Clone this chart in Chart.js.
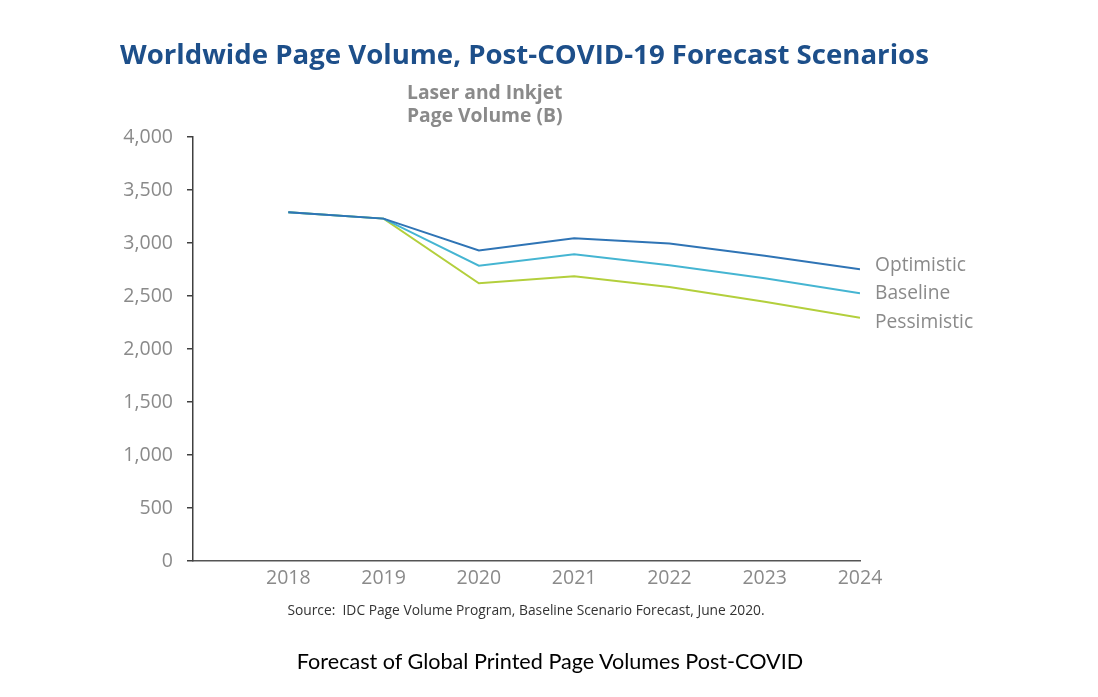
<!DOCTYPE html>
<html>
<head>
<meta charset="utf-8">
<script src="https://cdn.jsdelivr.net/npm/chart.js@4"></script>
<style>
  body { margin: 0; background: #fff; font-family: "Open Sans", sans-serif; }
  #wrap { position: relative; width: 1098px; height: 697px; }
  #chart { position: absolute; left: 0; top: 0; }
  .txt { position: absolute; white-space: nowrap; }
  #title { left: 120px; top: 34px; font-size: 27.6px; font-weight: bold; color: #1d4f8a; }
  #ylabel { left: 407px; top: 80px; font-size: 19.3px; font-weight: bold; color: #8a8a8a; line-height: 23px; }
  #source { left: 0; width: 1052px; text-align: center; top: 600px; font-size: 13.8px; color: #333; }
  #caption { left: 0; width: 1100px; text-align: center; top: 648px; font-family: Lato, sans-serif; font-size: 21.6px; color: #000; }
  .end { font-size: 19.2px; color: #8a8a8a; }
</style>
</head>
<body>
<div id="wrap">
  <canvas id="chart" width="1098" height="697"></canvas>
  <div class="txt" id="title">Worldwide Page Volume, Post-COVID-19 Forecast Scenarios</div>
  <div class="txt" id="ylabel">Laser and Inkjet<br>Page Volume (B)</div>
  <div class="txt" id="source">Source:&nbsp; IDC Page Volume Program, Baseline Scenario Forecast, June 2020.</div>
  <div class="txt" id="caption">Forecast of Global Printed Page Volumes Post-COVID</div>
</div>
<script>
// data
const years = [2018, 2019, 2020, 2021, 2022, 2023, 2024];
const optimistic = [3290, 3230, 2930, 3045, 2995, 2880, 2752];
const baseline = [3290, 3230, 2786, 2893, 2790, 2667, 2525];
const pessimistic = [3290, 3230, 2620, 2686, 2585, 2446, 2295];
const yTicks = [0, 500, 1000, 1500, 2000, 2500, 3000, 3500, 4000];

const seriesNames = ['Optimistic', 'Baseline', 'Pessimistic'];
const seriesColors = ['#2f74b5', '#45b5d2', '#b3cf3c'];
const labelShift = [-5, -1, 3];

function points(vals) {
    return years.map((y, i) => ({ x: y, y: vals[i] }));
}

// put the end-of-line names next to the last point of each series
const endLabels = {
    id: 'endLabels',
    afterRender(chart) {
        const wrap = document.getElementById('wrap');
        chart.data.datasets.forEach((ds, i) => {
            let el = document.getElementById('end' + i);
            if (!el) {
                el = document.createElement('div');
                el.id = 'end' + i;
                el.className = 'txt end';
                el.textContent = ds.label;
                wrap.appendChild(el);
            }
            const last = ds.data[ds.data.length - 1];
            const px = chart.scales.x.getPixelForValue(last.x);
            const py = chart.scales.y.getPixelForValue(last.y);
            el.style.left = (px + 15) + 'px';
            el.style.top = (py + labelShift[i] - 14) + 'px';
        });
    }
};

const ctx = document.getElementById('chart').getContext('2d');
new Chart(ctx, {
    type: 'line',
    data: {
        datasets: [optimistic, baseline, pessimistic].map((vals, i) => ({
            label: seriesNames[i],
            data: points(vals),
            borderColor: seriesColors[i],
            borderWidth: 2,
            pointRadius: 0,
            tension: 0,
            fill: false
        }))
    },
    options: {
        responsive: false,
        animation: false,
        layout: { padding: { left: 100, top: 137, right: 238, bottom: 106 } },
        plugins: { legend: { display: false }, tooltip: { enabled: false } },
        scales: {
            x: {
                type: 'linear',
                min: 2017,
                max: 2024,
                afterFit: s => { s.height = 30; },
                afterBuildTicks: s => { s.ticks = years.map(v => ({ value: v })); },
                grid: { drawOnChartArea: false, drawTicks: false },
                border: { color: '#555', width: 1.5 },
                ticks: {
                    padding: 6,
                    color: '#8a8a8a',
                    font: { family: 'Open Sans', size: 19.5 },
                    callback: v => String(v)
                }
            },
            y: {
                min: 0,
                max: 4000,
                afterFit: s => { s.width = 93; },
                afterBuildTicks: s => { s.ticks = yTicks.map(v => ({ value: v })); },
                grid: { drawOnChartArea: false, drawTicks: true, tickLength: 6, color: '#404040', lineWidth: 1.5 },
                border: { color: '#404040', width: 1.5 },
                ticks: {
                    padding: 14,
                    color: '#8a8a8a',
                    font: { family: 'Open Sans', size: 19.5 },
                    callback: v => v.toLocaleString('en-US')
                }
            }
        }
    },
    plugins: [endLabels]
});
</script>
</body>
</html>
